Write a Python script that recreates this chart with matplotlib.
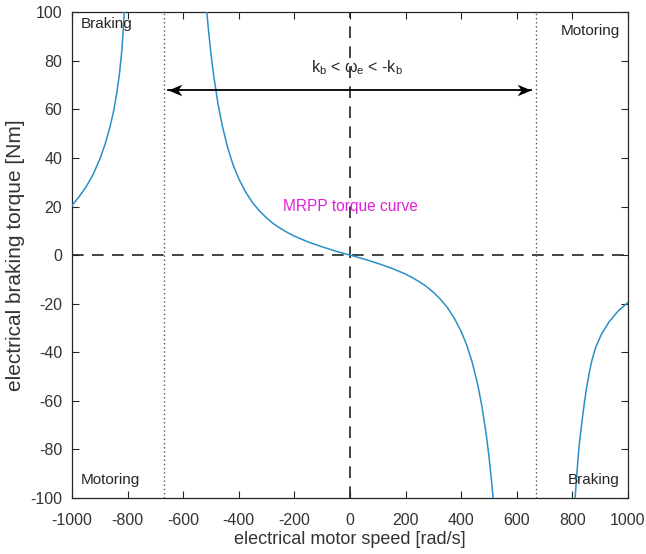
import matplotlib
matplotlib.use("Agg")
import matplotlib.pyplot as plt
from matplotlib.path import Path

plt.rcParams['font.family'] = ['Liberation Sans', 'DejaVu Sans']
plt.rcParams['axes.unicode_minus'] = False

# Braking branch for speeds below -k_b
speed_left = [-1000, -975, -950, -925, -900, -880, -863, -850, -839, -830, -821, -815, -812]
torque_left = [20.4, 24, 28, 33, 39.5, 46, 53, 59.5, 66.8, 74, 84, 94, 100]

# Central MRPP torque branch between -k_b and k_b
speed_mid = [-515, -510, -500, -490, -475, -460, -440, -420, -400, -375, -350, -325,
             -300, -275, -250, -225, -200, -175, -150, -125, -100, -75, -50, -25,
             0, 25, 50, 75, 100, 125, 150, 175, 200, 225, 250, 275, 300, 325,
             350, 375, 400, 420, 440, 460, 475, 490, 500, 510, 515]
torque_mid = [100, 93.7, 82.8, 73.6, 62.4, 53.5, 44.2, 37, 31.4, 25.9, 21.5, 18.1,
              15.3, 12.9, 11, 9.3, 7.8, 6.6, 5.4, 4.4, 3.4, 2.5, 1.6, 0.8,
              0, -0.8, -1.6, -2.5, -3.4, -4.4, -5.4, -6.6, -7.8, -9.3, -11, -12.9, -15.3, -18.1,
              -21.5, -25.9, -31.4, -37, -44.2, -53.5, -62.4, -73.6, -82.8, -93.7, -100]

# Braking branch for speeds above k_b
speed_right = [810, 817, 824, 833, 842, 850, 860, 870, 884, 905, 932, 965, 1000]
torque_right = [-100, -89, -79, -70, -62, -55.5, -49, -43.5, -38, -32.5, -27.5, -23, -19.5]

k_b = 670
x_ticks = list(range(-1000, 1001, 200))
y_ticks = list(range(-100, 101, 20))

curve_color = '#2a8fc7'
text_color = '#262626'

fig = plt.figure(figsize=(6.46, 5.54), dpi=100)
ax = fig.add_axes([0.1115, 0.101, 0.8605, 0.877])

for xs, ys in [(speed_left, torque_left), (speed_mid, torque_mid), (speed_right, torque_right)]:
    ax.plot(xs, ys, color=curve_color, lw=1.1, zorder=3, solid_joinstyle='round')

ax.axhline(0, color='#222222', lw=1.2, ls=(0, (7, 5)), zorder=2)
ax.axvline(0, color='#222222', lw=1.2, ls=(0, (7, 5)), zorder=2)
ax.axvline(-k_b, color='#555555', lw=1.0, ls=(0, (1, 2)), zorder=2)
ax.axvline(k_b, color='#555555', lw=1.0, ls=(0, (1, 2)), zorder=2)

# double-headed arrow spanning the speed window, with notched heads
arrow_y = 68
arrow_x = [-655, 650]
ax.plot(arrow_x, [arrow_y, arrow_y], color='black', lw=1.3, zorder=4)
head_left = Path([(0, 0), (1.2, 0.5), (0.85, 0), (1.2, -0.5), (0, 0)],
                 [Path.MOVETO, Path.LINETO, Path.LINETO, Path.LINETO, Path.CLOSEPOLY])
head_right = Path([(0, 0), (-1.2, 0.5), (-0.85, 0), (-1.2, -0.5), (0, 0)],
                  [Path.MOVETO, Path.LINETO, Path.LINETO, Path.LINETO, Path.CLOSEPOLY])
ax.plot([arrow_x[0]], [arrow_y], marker=head_left, ms=20, color='black', mew=0, zorder=5)
ax.plot([arrow_x[1]], [arrow_y], marker=head_right, ms=20, color='black', mew=0, zorder=5)

ax.text(25, 77, r'k$_{\mathregular{b}}$ < ω$_{\mathregular{e}}$ < -k$_{\mathregular{b}}$',
        ha='center', va='center', fontsize=11.5, color=text_color)

ax.text(0, 20, 'MRPP torque curve', color='#e020d8', fontsize=11.2, ha='center', va='center')

ax.text(-970, 95, 'Braking', fontsize=11, color=text_color, ha='left', va='center')
ax.text(760, 92.3, 'Motoring', fontsize=11, color=text_color, ha='left', va='center')
ax.text(-970, -92.6, 'Motoring', fontsize=11, color=text_color, ha='left', va='center')
ax.text(782, -92.6, 'Braking', fontsize=11, color=text_color, ha='left', va='center')

ax.set_xlim(-1000, 1000)
ax.set_ylim(-100, 100)
ax.set_xticks(x_ticks)
ax.set_yticks(y_ticks)
ax.tick_params(direction='in', top=True, right=True, length=5, width=0.8,
               labelsize=11.5, colors=text_color, labelcolor='#333333')
ax.tick_params(axis='x', pad=11)
ax.tick_params(axis='y', pad=7)
for s in ax.spines.values():
    s.set_color('#262626')
    s.set_linewidth(0.9)

ax.set_xlabel('electrical motor speed [rad/s]', fontsize=13, color='#333333', labelpad=2)
ax.set_ylabel('electrical braking torque [Nm]', fontsize=15, color='#333333', labelpad=4)

fig.savefig('out.png', dpi=100)
